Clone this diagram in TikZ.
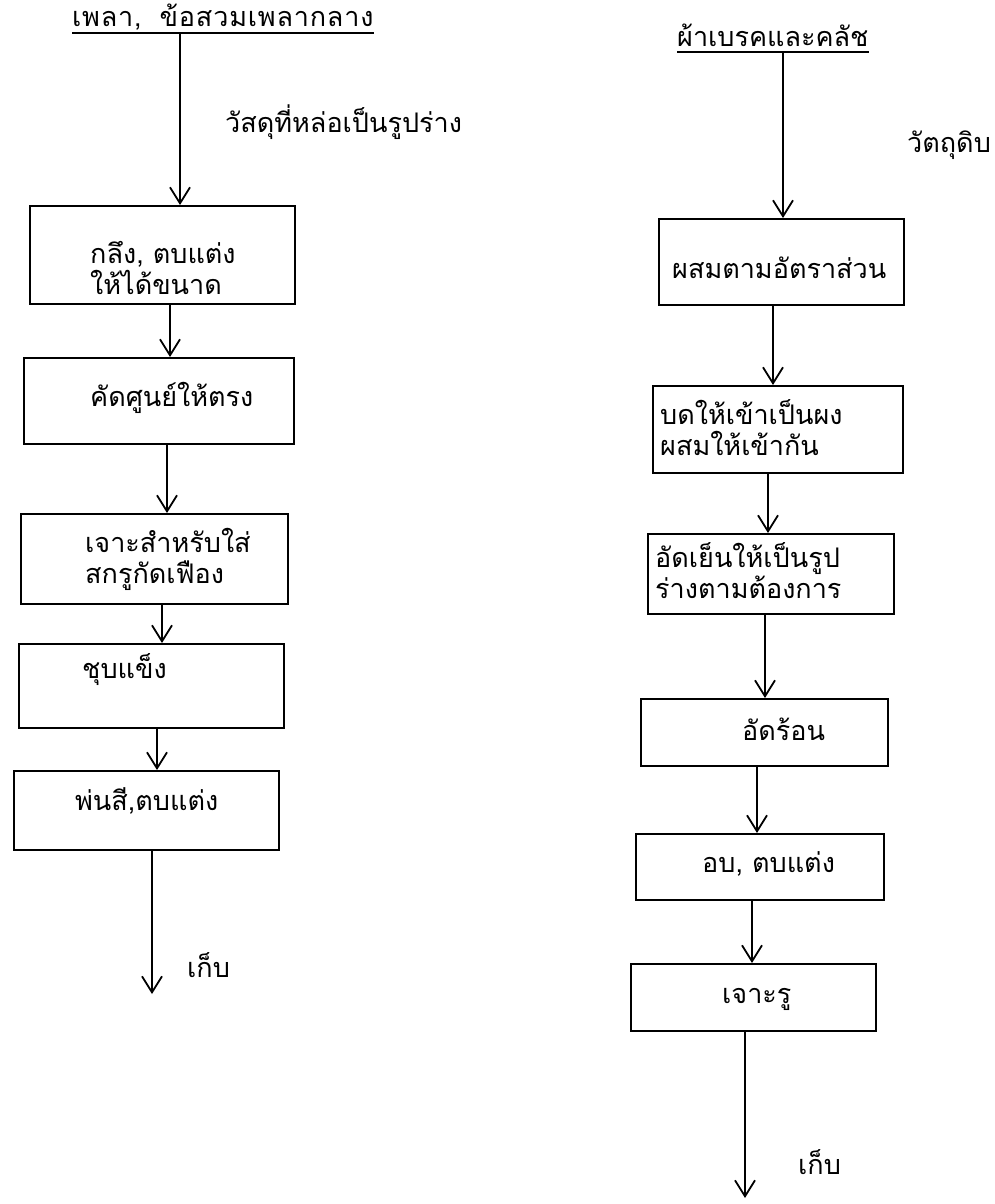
\documentclass[tikz,border=0pt]{standalone}
\usepackage{fontspec}
\newfontfamily\thai[Script=Thai]{Loma}
\usetikzlibrary{arrows.meta,calc}
\begin{document}
\begin{tikzpicture}[x=1pt,y=-1pt,
  box/.style={draw, line width=1.8pt, rectangle, inner sep=0pt, anchor=north west},
  txt/.style={font=\thai\fontsize{27}{31}\selectfont, inner sep=0pt, align=left},
  arr/.style={line width=1.8pt, -{Straight Barb[length=16pt,width=20pt,line width=1.8pt]}},
  ln/.style={line width=1.8pt}]
\useasboundingbox (0,0) rectangle (995,1204);
% ---------- left column ----------
\node[txt, anchor=base west] (tL) at (72,27) {\addfontfeature{LetterSpace=3}เพลา,\hspace{18pt}ข้อสวมเพลากลาง};
\draw[ln] ($(tL.base west)+(0,6)$) -- ($(tL.base east)+(0,6)$);
\coordinate (tLs) at (180,33);
\node[txt, anchor=west] (mL) at (225,122) {วัสดุที่หล่อเป็นรูปร่าง};
\node[box, minimum width=265pt, minimum height=98pt] (L1) at (29,205) {};
\node[txt, anchor=west] (L1t) at (90,268) {กลึง, ตบแต่ง\\ให้ได้ขนาด};
\node[box, minimum width=270pt, minimum height=86pt] (L2) at (23,357) {};
\node[txt, anchor=west] (L2t) at (90,398) {คัดศูนย์ให้ตรง};
\node[box, minimum width=267pt, minimum height=90pt] (L3) at (20,513) {};
\node[txt, anchor=west] (L3t) at (85,559) {เจาะสำหรับใส่\\สกรูกัดเฟือง};
\node[box, minimum width=265pt, minimum height=84pt] (L4) at (18,643) {};
\node[txt, anchor=west] (L4t) at (82,670) {ชุบแข็ง};
\node[box, minimum width=265pt, minimum height=79pt] (L5) at (13,770) {};
\node[txt, anchor=west] (L5t) at (75,801) {พ่นสี,ตบแต่ง};
\coordinate (Lend) at (152,994);
\node[txt, anchor=west] (kL) at (187,965) {เก็บ};
\draw[arr] (tLs) -- (tLs |- L1.north);
\draw[arr] ($(L1.south west)+(141,0)$) -- ($(L2.north west)+(147,0)$);
\draw[arr] ($(L2.south west)+(144,0)$) -- ($(L3.north west)+(147,0)$);
\draw[arr] ($(L3.south west)+(142,0)$) -- ($(L4.north west)+(144,0)$);
\draw[arr] ($(L4.south west)+(139,0)$) -- ($(L5.north west)+(144,0)$);
\draw[arr] ($(L5.south west)+(139,0)$) -- (Lend);
% ---------- right column ----------
\node[txt, anchor=base west] (tR) at (677,47) {ผ้าเบรคและคลัช};
\draw[ln] ($(tR.base west)+(0,5)$) -- ($(tR.base east)+(0,5)$);
\coordinate (tRs) at (783,53);
\node[txt, anchor=west] (mR) at (907,145) {วัตถุดิบ};
\node[box, minimum width=245pt, minimum height=86pt] (R1) at (658,218) {};
\node[txt, anchor=west] (R1t) at (672,268) {ผสมตามอัตราส่วน};
\node[box, minimum width=250pt, minimum height=87pt] (R2) at (652,385) {};
\node[txt, anchor=west] (R2t) at (660,428) {บดให้เข้าเป็นผง\\ผสมให้เข้ากัน};
\node[box, minimum width=246pt, minimum height=80pt] (R3) at (647,533) {};
\node[txt, anchor=west] (R3t) at (655,571) {อัดเย็นให้เป็นรูป\\ร่างตามต้องการ};
\node[box, minimum width=247pt, minimum height=67pt] (R4) at (640,698) {};
\node[txt, anchor=west] (R4t) at (742,729) {อัดร้อน};
\node[box, minimum width=248pt, minimum height=66pt] (R5) at (635,833) {};
\node[txt, anchor=west] (R5t) at (702,864) {อบ, ตบแต่ง};
\node[box, minimum width=245pt, minimum height=67pt] (R6) at (630,963) {};
\node[txt, anchor=west] (R6t) at (722,999) {เจาะรู};
\coordinate (Rend) at (745,1198);
\node[txt, anchor=west] (kR) at (798,1162) {เก็บ};
\draw[arr] (tRs) -- (tRs |- R1.north);
\draw[arr] ($(R1.south west)+(115,0)$) -- ($(R2.north west)+(121,0)$);
\draw[arr] ($(R2.south west)+(116,0)$) -- ($(R3.north west)+(121,0)$);
\draw[arr] ($(R3.south west)+(118,0)$) -- ($(R4.north west)+(125,0)$);
\draw[arr] ($(R4.south west)+(117,0)$) -- ($(R5.north west)+(122,0)$);
\draw[arr] ($(R5.south west)+(117,0)$) -- ($(R6.north west)+(122,0)$);
\draw[arr] ($(R6.south west)+(115,0)$) -- (Rend);
\end{tikzpicture}
\end{document}
